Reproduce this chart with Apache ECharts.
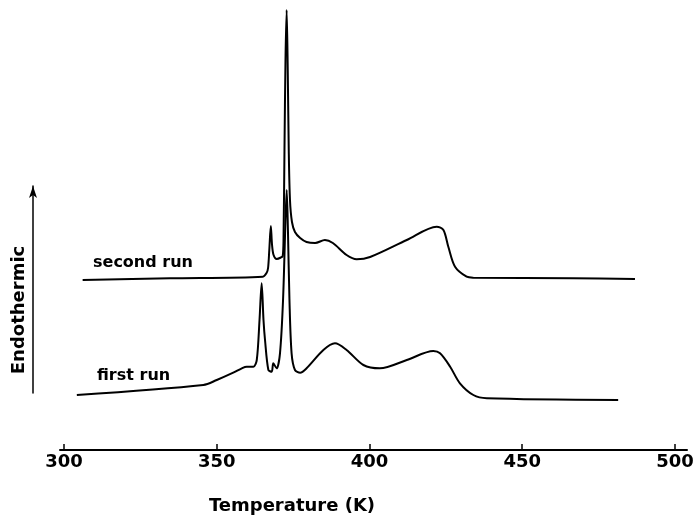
<!DOCTYPE html>
<html>
<head>
<meta charset="utf-8">
<script src="https://cdn.jsdelivr.net/npm/echarts@6/dist/echarts.min.js"></script>
<style>
html,body{margin:0;padding:0;background:#fff;}
#chart{width:698px;height:519px;}
</style>
</head>
<body>
<div id="chart"></div>
<script>
// Temperature (K) tick values
var tempTicks = [300, 350, 400, 450, 500];

// second run: [temperature K, endothermic signal (arb. units)]
var secondRun = [
  [306.1,170],[334.7,171.7],[365.1,173.3],[366.3,177],[366.8,182],[367.2,200],
  [367.7,224],[368.1,205],[368.6,195],[369.6,191],[371.0,192.5],[371.6,194],
  [371.85,210],[372.17,300],[372.5,390],[372.88,440],[373.24,380],[373.57,300],
  [373.97,250],[374.62,228],[375.6,218],[377.3,212],[379.4,208],[382.2,207],
  [385.4,210],[388.0,207],[392.5,195],[395.8,190.7],[400.2,193],[412.2,210],
  [422.0,223.3],[424.2,220],[425.8,203.3],[428.0,183.3],[431.8,173.3],
  [434.0,172.3],[466.6,171.7],[486.9,171]
];

// first run: [temperature K, endothermic signal (arb. units)]
var firstRun = [
  [304.2,55],[345.6,65],[350.0,70],[355.4,77.3],[358.2,81.7],[359.8,83.3],
  [362.0,83.3],[363.1,90],[364.0,130],[364.7,166.7],[365.3,130],[365.8,110],
  [366.9,80],[368.0,78.3],[368.5,86.7],[369.6,81.7],[370.7,96.7],[371.7,150],
  [372.5,230],[372.9,260],[373.3,220],[373.8,150],[374.5,96.7],[375.6,80],
  [377.3,77.3],[379.4,81.7],[384.9,100],[388.7,106.7],[392.5,100],[398.0,85],
  [403.4,81.7],[412.2,90],[420.9,99],[423.1,96.7],[426.4,83.3],[429.6,66.7],
  [434.0,55],[438.4,51.7],[481.4,50]
];

var seriesNames = ['second run', 'first run'];
var xTitle = 'Temperature (K)';
var yTitle = 'Endothermic';

var chart = echarts.init(document.getElementById('chart'), null, {renderer: 'canvas'});
var FONT = '"DejaVu Sans", sans-serif';
chart.setOption({
  animation: false,
  backgroundColor: '#fff',
  grid: [
    {left: 60, right: 11, top: 0, bottom: 69},
    {left: 33, width: 10, top: 186, bottom: 126}
  ],
  xAxis: [
    {
      gridIndex: 0, type: 'value', min: 298.69, max: 503.93,
      axisLine: {show: true, lineStyle: {color: '#000', width: 2}},
      axisTick: {show: true, inside: true, length: 6, lineStyle: {color: '#000', width: 1.5}, customValues: tempTicks},
      axisLabel: {show: true, customValues: tempTicks, margin: 3, color: '#000',
        fontFamily: FONT, fontWeight: 'bold', fontSize: 18},
      splitLine: {show: false}
    },
    {gridIndex: 1, type: 'value', show: false, min: 0, max: 1}
  ],
  yAxis: [
    {gridIndex: 0, type: 'value', min: 0, max: 450, show: false},
    {
      gridIndex: 1, type: 'value', min: 0, max: 1, position: 'left',
      axisLine: {show: true, symbol: ['none', 'arrow'], symbolSize: [6, 12], symbolOffset: [0, 0],
        lineStyle: {color: '#000', width: 1.5}},
      axisTick: {show: false}, axisLabel: {show: false}, splitLine: {show: false}
    }
  ],
  graphic: [
    {type: 'text', x: 292, y: 506, style: {text: xTitle, font: 'bold 18px ' + FONT, fill: '#000', align: 'center', verticalAlign: 'middle'}},
    {type: 'text', x: 19, y: 310, rotation: Math.PI / 2, style: {text: yTitle, font: 'bold 18px ' + FONT, fill: '#000', align: 'center', verticalAlign: 'middle'}},
    {type: 'text', x: 93, y: 263, style: {text: seriesNames[0], font: 'bold 16px ' + FONT, fill: '#000', align: 'left', verticalAlign: 'middle'}},
    {type: 'text', x: 97, y: 376, style: {text: seriesNames[1], font: 'bold 16px ' + FONT, fill: '#000', align: 'left', verticalAlign: 'middle'}}
  ],
  series: [
    {name: seriesNames[0], type: 'line', xAxisIndex: 0, yAxisIndex: 0, data: secondRun,
      showSymbol: false, smooth: 0.3, lineStyle: {color: '#000', width: 2}},
    {name: seriesNames[1], type: 'line', xAxisIndex: 0, yAxisIndex: 0, data: firstRun,
      showSymbol: false, smooth: 0.3, lineStyle: {color: '#000', width: 2}}
  ]
});
</script>
</body>
</html>
